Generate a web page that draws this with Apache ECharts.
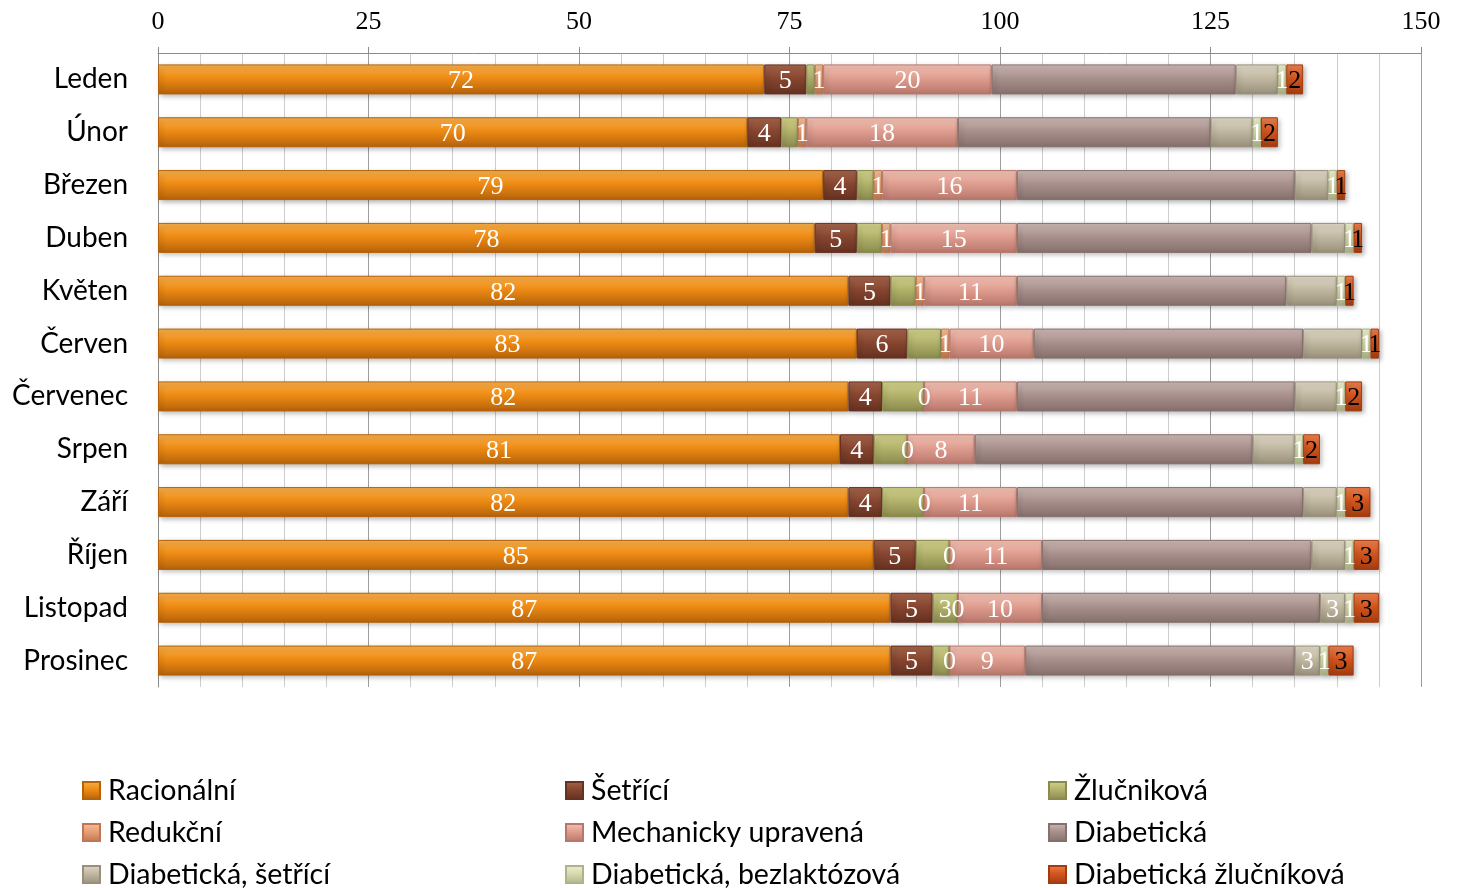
<!DOCTYPE html>
<html>
<head>
<meta charset="utf-8">
<script src="https://cdn.jsdelivr.net/npm/echarts@6/dist/echarts.min.js"></script>
<style>
  html, body { margin: 0; padding: 0; background: #fff; }
  #chart { width: 1461px; height: 888px; }
</style>
</head>
<body>
<div id="chart"></div>
<script>
const months = ["Leden", "Únor", "Březen", "Duben", "Květen", "Červen", "Červenec", "Srpen", "Září", "Říjen", "Listopad", "Prosinec"];

const racionalni = [72, 70, 79, 78, 82, 83, 82, 81, 82, 85, 87, 87];
const setrici = [5, 4, 4, 5, 5, 6, 4, 4, 4, 5, 5, 5];
const zlucnikova = [1, 2, 2, 3, 3, 4, 5, 4, 5, 4, 3, 2];
const redukcni = [1, 1, 1, 1, 1, 1, 0, 0, 0, 0, 0, 0];
const mechanicky = [20, 18, 16, 15, 11, 10, 11, 8, 11, 11, 10, 9];
const diabeticka = [29, 30, 33, 35, 32, 32, 33, 33, 34, 32, 33, 32];
const diabSetrici = [5, 5, 4, 4, 6, 7, 5, 5, 4, 4, 3, 3];
const diabBezlaktozova = [1, 1, 1, 1, 1, 1, 1, 1, 1, 1, 1, 1];
const diabZlucnikova = [2, 2, 1, 1, 1, 1, 2, 2, 3, 3, 3, 3];

const xTicks = [0, 25, 50, 75, 100, 125, 150];

const grad = (top, mid, bottom) =>
  new echarts.graphic.LinearGradient(0, 0, 0, 1, [
    { offset: 0, color: top },
    { offset: 0.45, color: mid },
    { offset: 1, color: bottom },
  ]);

// which months carry a visible data label (null = all)
const seriesDefs = [
  { name: "Racionální", data: racionalni, c: ["#F8B04C", "#EE8B14", "#B5620A"], labels: null },
  { name: "Šetřící", data: setrici, c: ["#A6664C", "#874630", "#653120"], labels: null },
  { name: "Žlučniková", data: zlucnikova, c: ["#D3D38E", "#B3B36C", "#8A8A4E"], labels: ["Listopad"] },
  { name: "Redukční", data: redukcni, c: ["#F5C09C", "#E7A077", "#C07650"], labels: null },
  { name: "Mechanicky upravená", data: mechanicky, c: ["#F3C4B7", "#DF9E90", "#B8776B"], labels: null },
  { name: "Diabetická", data: diabeticka, c: ["#CDB9B5", "#A9918D", "#85706C"], labels: [] },
  { name: "Diabetická, šetřící", data: diabSetrici, c: ["#E0D9C8", "#C2B9A3", "#99907B"], labels: ["Listopad", "Prosinec"] },
  { name: "Diabetická, bezlaktózová", data: diabBezlaktozova, c: ["#EEF0D2", "#D7DBAE", "#AFB387"], labels: null },
  { name: "Diabetická žlučníková", data: diabZlucnikova, c: ["#EC8250", "#D3551E", "#A23C10"], labels: null, dark: true },
];

const series = seriesDefs.map((s) => ({
  name: s.name,
  type: "bar",
  stack: "total",
  barWidth: 30,
  itemStyle: {
    color: grad(s.c[0], s.c[1], s.c[2]),
    borderColor: s.c[2],
    borderWidth: 1,
    shadowColor: "rgba(0,0,0,0.3)",
    shadowBlur: 5,
    shadowOffsetX: 2,
    shadowOffsetY: 2,
  },
  label: {
    show: true,
    position: "inside",
    offset: [0, 2],
    fontFamily: "Liberation Serif",
    fontSize: 26,
    color: s.dark ? "#000" : "#fff",
    formatter: (p) => (s.labels === null || s.labels.includes(p.name) ? String(p.value) : ""),
  },
  data: s.data,
}));

const legendLeft = [77, 560, 1043];
const legendTop = [771, 813, 855];
const legend = seriesDefs.map((s, i) => ({
  data: [s.name],
  left: legendLeft[i % 3],
  top: legendTop[Math.floor(i / 3)],
  icon: "rect",
  itemWidth: 17,
  itemHeight: 17,
  itemGap: 6,
  selectedMode: false,
  textStyle: { fontFamily: "Lato", fontSize: 28.5, color: "#000", padding: [0, 0, 0, 3] },
}));

const chart = echarts.init(document.getElementById("chart"));
chart.setOption({
  animation: false,
  legend,
  grid: { left: 158, right: 40, top: 53, height: 634, containLabel: false },
  xAxis: {
    type: "value",
    position: "top",
    min: xTicks[0],
    max: xTicks[xTicks.length - 1],
    interval: 25,
    axisLine: { show: true, lineStyle: { color: "#8C8C8C", width: 1 } },
    axisTick: { show: true, length: 6, lineStyle: { color: "#8C8C8C" } },
    axisLabel: { fontFamily: "Liberation Serif", fontSize: 26, color: "#000", margin: 18 },
    splitLine: { show: true, lineStyle: { color: "#9E9E9E", width: 1 } },
    minorTick: { show: false, splitNumber: 5 },
    minorSplitLine: { show: true, lineStyle: { color: "#CDCDCD", width: 1 } },
  },
  yAxis: {
    type: "category",
    data: months,
    inverse: true,
    axisLine: { show: true, lineStyle: { color: "#8C8C8C" } },
    axisTick: { show: false },
    axisLabel: { fontFamily: "Lato", fontSize: 28, color: "#000", margin: 30 },
  },
  series,
});
</script>
</body>
</html>
